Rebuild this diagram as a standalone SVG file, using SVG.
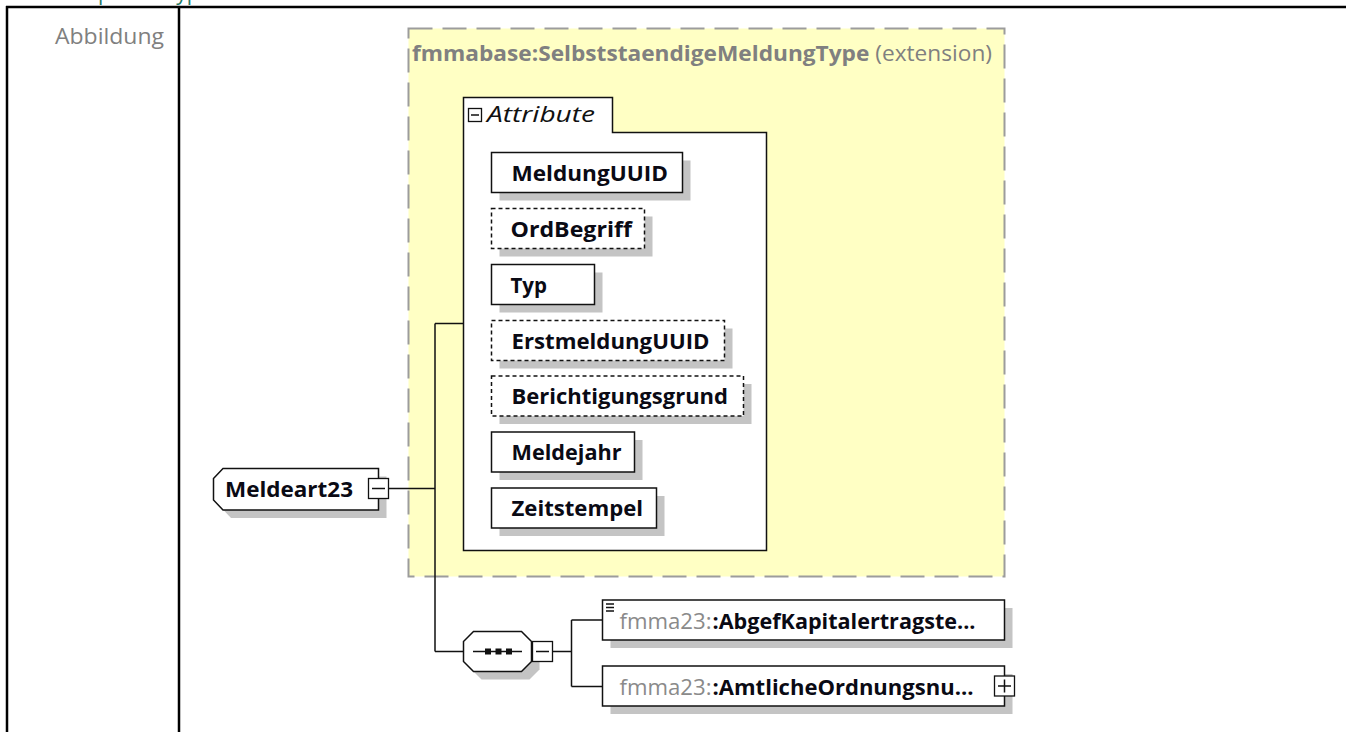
<svg xmlns="http://www.w3.org/2000/svg" width="1346" height="732" viewBox="0 0 1346 732">
<style>
.tbl{stroke:#000;stroke-width:2.5;fill:none}
.lbl{font-family:"Open Sans","Noto Sans","DejaVu Sans",sans-serif}
.b{font-weight:bold;font-size:22px;fill:#0a0a14}
.g{font-size:22px;fill:#8a8a8a}
.box{fill:#fff;stroke:#111;stroke-width:1.5}
.dash{stroke-dasharray:4 3}
.sh{fill:#c4c4c4}
.con{stroke:#111;stroke-width:1.5;fill:none}
.ico{fill:#fff;stroke:#111;stroke-width:1.3}
</style>
<rect width="1346" height="732" fill="#fff"/>
<text class="lbl" x="53" y="-0.5" font-size="21" fill="#1f7a64">Komplexer Typ</text>
<path class="tbl" d="M6,7 H1346 M7,6 V732 M179,7 V732"/>
<text class="lbl" x="164" y="44" font-size="21" fill="#808080" text-anchor="end" textLength="109" lengthAdjust="spacingAndGlyphs">Abbildung</text>

<g id="extension">
<rect x="408.5" y="28.5" width="596" height="548" fill="#ffffc4" stroke="#9c9c9c" stroke-width="2" stroke-dasharray="24 10"/>
<text class="lbl" x="412" y="61" font-size="21" fill="#808080" textLength="580" lengthAdjust="spacingAndGlyphs"><tspan font-weight="bold">fmmabase:SelbststaendigeMeldungType</tspan> (extension)</text>
</g>

<g id="attributes">
<path class="box" d="M463.5,97.5 H612.5 V132.5 H766.5 V550.5 H463.5 Z"/>
<rect class="ico" x="468.5" y="108.5" width="13" height="13"/>
<path class="con" d="M471,115 H479"/>
<text class="lbl" x="487" y="122" font-size="22" font-style="italic" fill="#111" textLength="108" lengthAdjust="spacingAndGlyphs">Attribute</text>
</g>

<g id="MeldungUUID">
<rect class="sh" x="499.5" y="160.5" width="191" height="40"/>
<rect class="box" x="491.5" y="152.5" width="191" height="40"/>
<text class="lbl b" x="511.5" y="180.5" textLength="156.5" lengthAdjust="spacingAndGlyphs">MeldungUUID</text>
</g>
<g id="OrdBegriff">
<rect class="sh" x="499.5" y="216.5" width="153" height="40"/>
<rect class="box dash" x="491.5" y="208.5" width="153" height="40"/>
<text class="lbl b" x="510.5" y="236.5" textLength="121.5" lengthAdjust="spacingAndGlyphs">OrdBegriff</text>
</g>
<g id="Typ">
<rect class="sh" x="499.5" y="272.5" width="103" height="40"/>
<rect class="box" x="491.5" y="264.5" width="103" height="40"/>
<text class="lbl b" x="510.5" y="292.5" textLength="36.5" lengthAdjust="spacingAndGlyphs">Typ</text>
</g>
<g id="ErstmeldungUUID">
<rect class="sh" x="499.5" y="328.5" width="233" height="40"/>
<rect class="box dash" x="491.5" y="320.5" width="233" height="40"/>
<text class="lbl b" x="511.5" y="348.5" textLength="198" lengthAdjust="spacingAndGlyphs">ErstmeldungUUID</text>
</g>
<g id="Berichtigungsgrund">
<rect class="sh" x="499.5" y="384" width="252" height="40"/>
<rect class="box dash" x="491.5" y="376" width="252" height="40"/>
<text class="lbl b" x="511.5" y="404" textLength="216.5" lengthAdjust="spacingAndGlyphs">Berichtigungsgrund</text>
</g>
<g id="Meldejahr">
<rect class="sh" x="499.5" y="440" width="143" height="40"/>
<rect class="box" x="491.5" y="432" width="143" height="40"/>
<text class="lbl b" x="511.5" y="460" textLength="110" lengthAdjust="spacingAndGlyphs">Meldejahr</text>
</g>
<g id="Zeitstempel">
<rect class="sh" x="499.5" y="496" width="165" height="40"/>
<rect class="box" x="491.5" y="488" width="165" height="40"/>
<text class="lbl b" x="511.5" y="516" textLength="131.5" lengthAdjust="spacingAndGlyphs">Zeitstempel</text>
</g>

<g id="connectors">
<path class="con" d="M388.5,488.5 H435 M435,323.5 V651.5 M435,323.5 H464 M435,651.5 H463.5 M552.5,651.5 H571.5 M571.5,620 V686.5 M571.5,620 H603 M571.5,686.5 H603"/>
</g>

<g id="Meldeart23">
<path class="sh" d="M231,476.5 H386.5 V518 H231 L221.5,508 V486.5 Z"/>
<path class="box" d="M223,468.5 H378.5 V510 H223 L213.5,500 V478.5 Z"/>
<text class="lbl b" x="225" y="497" textLength="128" lengthAdjust="spacingAndGlyphs">Meldeart23</text>
<rect class="ico" x="368.5" y="478.5" width="20" height="20"/>
<path class="con" d="M372,488.5 H385"/>
</g>

<g id="sequence">
<path class="sh" d="M481.5,639.5 H529.5 L539.5,649.5 V669.5 L529.5,679.5 H481.5 L471.5,669.5 V649.5 Z"/>
<path class="box" d="M473.5,631.5 H521.5 L531.5,641.5 V661.5 L521.5,671.5 H473.5 L463.5,661.5 V641.5 Z"/>
<path class="con" d="M473,651.5 H522"/>
<rect x="485" y="648.5" width="6" height="6" fill="#111"/>
<rect x="495.5" y="648.5" width="6" height="6" fill="#111"/>
<rect x="506" y="648.5" width="6" height="6" fill="#111"/>
<rect class="ico" x="532.5" y="641.5" width="20" height="20"/>
<path class="con" d="M536,651.5 H549"/>
</g>

<g id="AbgefKapitalertragste">
<rect class="sh" x="610.5" y="608" width="402" height="40"/>
<rect class="box" x="602.5" y="600" width="402" height="40"/>
<path d="M606,604 H614 M606,607.5 H614 M606,611 H614" stroke="#111" stroke-width="1.5"/>
<text class="lbl g" x="619.5" y="629" textLength="92" lengthAdjust="spacingAndGlyphs">fmma23:</text>
<text class="lbl b" x="712.5" y="629" textLength="263" lengthAdjust="spacingAndGlyphs">:AbgefKapitalertragste...</text>
</g>

<g id="AmtlicheOrdnungsnu">
<rect class="sh" x="610.5" y="674" width="402" height="40"/>
<rect class="box" x="602.5" y="666" width="402" height="40"/>
<text class="lbl g" x="619.5" y="695" textLength="92" lengthAdjust="spacingAndGlyphs">fmma23:</text>
<text class="lbl b" x="712.5" y="695" textLength="261" lengthAdjust="spacingAndGlyphs">:AmtlicheOrdnungsnu...</text>
<rect class="ico" x="994.5" y="676" width="20" height="20"/>
<path class="con" d="M998,686 H1011 M1004.5,679.5 V692.5"/>
</g>
</svg>
